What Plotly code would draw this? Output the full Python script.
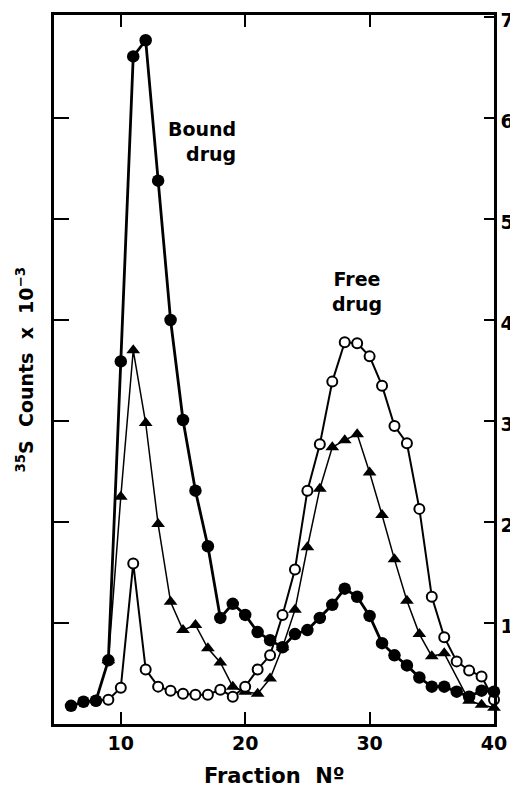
import plotly.graph_objects as go

# Fraction numbers
x_filled = list(range(6, 41))
y_filled = [0.18, 0.22, 0.23, 0.63, 3.59, 6.61, 6.77, 5.38, 4.00, 3.01,
            2.31, 1.76, 1.05, 1.19, 1.08, 0.91, 0.83, 0.76, 0.89, 0.93,
            1.05, 1.18, 1.34, 1.26, 1.07, 0.80, 0.68, 0.58, 0.46, 0.37,
            0.37, 0.32, 0.27, 0.33, 0.32]

x_tri = list(range(9, 37)) + [38, 39, 40]
y_tri = [0.63, 2.25, 3.70, 2.98, 1.98, 1.21, 0.93, 0.98, 0.75, 0.61,
         0.37, 0.32, 0.30, 0.45, 0.76, 1.13, 1.75, 2.33, 2.74, 2.81,
         2.87, 2.49, 2.07, 1.63, 1.22, 0.89, 0.67, 0.70, 0.23, 0.19, 0.16]

x_open = list(range(8, 41))
y_open = [0.23, 0.24, 0.36, 1.59, 0.54, 0.37, 0.33, 0.30, 0.29, 0.29,
          0.34, 0.27, 0.37, 0.54, 0.68, 1.08, 1.53, 2.31, 2.77, 3.39,
          3.78, 3.77, 3.64, 3.35, 2.95, 2.78, 2.13, 1.26, 0.86, 0.62,
          0.53, 0.47, 0.24]

x_ticks = [10, 20, 30, 40]
y_ticks = [1, 2, 3, 4, 5, 6, 7]

FONT = "DejaVu Sans"

fig = go.Figure()
fig.add_trace(go.Scatter(
    x=x_tri, y=y_tri, mode="lines+markers", cliponaxis=False,
    line=dict(color="black", width=1.5),
    marker=dict(symbol="triangle-up", size=12, color="black"),
    showlegend=False))
fig.add_trace(go.Scatter(
    x=x_open, y=y_open, mode="lines+markers", cliponaxis=False,
    line=dict(color="black", width=2),
    marker=dict(symbol="circle", size=10, color="white",
                line=dict(color="black", width=2)),
    showlegend=False))
fig.add_trace(go.Scatter(
    x=x_filled, y=y_filled, mode="lines+markers", cliponaxis=False,
    line=dict(color="black", width=2.8),
    marker=dict(symbol="circle", size=12.5, color="black"),
    showlegend=False))

# page body has an 8px default margin, so the figure is sized/offset to compensate
fig.update_layout(
    width=510, height=782,
    margin=dict(l=45.5, r=23.5, t=7, b=66, autoexpand=False),
    paper_bgcolor="white", plot_bgcolor="white",
    font=dict(family=FONT, color="black", size=19, weight="bold"),
    xaxis=dict(range=[4.63, 40], tickvals=x_ticks, ticks="inside", ticklen=12,
               tickwidth=2, tickcolor="black", showline=True, linecolor="black",
               linewidth=2.5, mirror="ticks", showgrid=False, zeroline=False,
               automargin=False, ticklabeloverflow="allow",
               tickfont=dict(family=FONT, size=19, weight="bold")),
    yaxis=dict(range=[0, 7.02], tickvals=y_ticks[:-1], ticks="inside", ticklen=15,
               tickwidth=2, tickcolor="black", showline=True, linecolor="black",
               linewidth=2.5, showticklabels=False, showgrid=False, zeroline=False,
               automargin=False),
    yaxis2=dict(range=[0, 7.02], overlaying="y", side="right", matches="y",
                tickvals=y_ticks, ticks="inside", ticklen=10, tickwidth=2,
                tickcolor="black", showline=True, linecolor="black", linewidth=2.5,
                showgrid=False, zeroline=False, automargin=False,
                ticklabelshift=3, ticklabeloverflow="allow",
                tickfont=dict(family=FONT, size=19, weight="bold")),
)

# invisible trace so the right-hand axis is rendered
fig.add_trace(go.Scatter(x=[x_ticks[0]], y=[y_ticks[0]], yaxis="y2",
                         mode="markers", marker=dict(opacity=0),
                         showlegend=False, hoverinfo="skip"))

fig.add_annotation(x=19.4, y=5.77, xref="x", yref="y", text="Bound<br>drug",
                   showarrow=False, xanchor="right", yanchor="middle", align="right",
                   font=dict(family=FONT, size=19, weight="bold"))
fig.add_annotation(x=28.97, y=4.28, xref="x", yref="y", text="Free<br>drug",
                   showarrow=False, xanchor="center", yanchor="middle", align="center",
                   font=dict(family=FONT, size=19, weight="bold"))
fig.add_annotation(x=0.5, y=-0.0733, xref="paper", yref="paper",
                   text="Fraction  Nº", showarrow=False,
                   xanchor="center", yanchor="middle",
                   font=dict(family=FONT, size=21, weight="bold"))
fig.add_annotation(x=-0.066, y=0.5, xref="paper", yref="paper",
                   text="<sup>35</sup>S  Counts  x  10<sup>−3</sup>", showarrow=False,
                   textangle=-90, xanchor="center", yanchor="middle",
                   font=dict(family=FONT, size=19, weight="bold"))

fig.write_html("out.html")
